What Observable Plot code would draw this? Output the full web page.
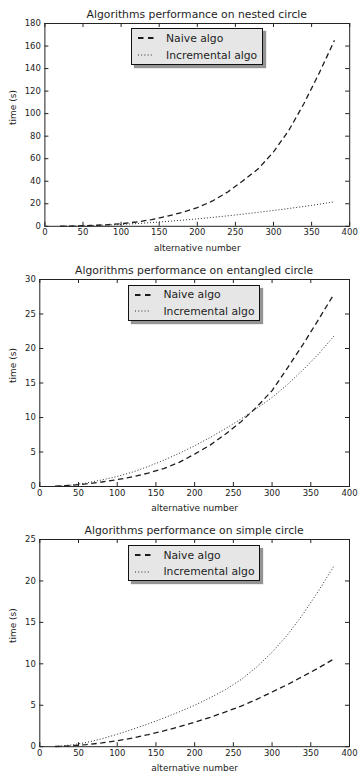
<!DOCTYPE html>
<html>
<head>
<meta charset="utf-8">
<script src="https://cdn.jsdelivr.net/npm/d3@7"></script>
<script src="https://cdn.jsdelivr.net/npm/@observablehq/plot@0.6"></script>
<style>
  html, body { margin: 0; padding: 0; background: #fff; }
  #chart { position: relative; width: 360px; height: 777px; overflow: hidden;
           font-family: "DejaVu Sans", sans-serif; color: #222; }
  #chart svg.plot { position: absolute; left: 0; }
  .title { position: absolute; text-align: center; font-size: 10.8px; line-height: 13px;
           white-space: nowrap; color: #1e1e1e; }
  .legend { position: absolute; box-sizing: border-box; border: 1px solid #111;
            background: #e6e6e6; box-shadow: 3px 3px 1px rgba(0,0,0,0.42); }
  .legend .row { position: absolute; left: 0; height: 14px; display: flex; align-items: center;
                 font-size: 10.8px; color: #1e1e1e; white-space: nowrap; }
  .legend .row svg { position: absolute; left: 6.5px; }
  .legend .row span { position: absolute; left: 34.5px; }
</style>
</head>
<body>
<div id="chart"></div>
<script>
// Number of alternatives tested (x values shared by all three experiments)
const alternatives = [20, 40, 60, 80, 100, 120, 140, 160, 180, 200, 220, 240, 260, 280, 300, 320, 340, 360, 380];

// Running times in seconds — nested circle
const nestedNaive = [0.1, 0.3, 0.7, 1.3, 2.3, 3.8, 6.0, 8.8, 12.3, 16.5, 22.5, 30.5, 40.5, 51, 66, 85, 109, 136, 165];
const nestedIncremental = [0.05, 0.2, 0.5, 1.0, 1.6, 2.4, 3.3, 4.3, 5.4, 6.6, 7.9, 9.3, 10.8, 12.4, 14.0, 15.8, 17.6, 19.6, 21.8];

// Running times in seconds — entangled circle
const entangledNaive = [0.04, 0.17, 0.38, 0.65, 1.0, 1.4, 1.95, 2.6, 3.5, 4.7, 6.0, 7.6, 9.4, 11.5, 13.9, 17.2, 20.6, 24.2, 27.9];
const entangledIncremental = [0.05, 0.2, 0.5, 0.95, 1.45, 2.1, 2.9, 3.8, 4.8, 5.9, 7.1, 8.4, 9.8, 11.3, 12.9, 14.8, 16.9, 19.2, 21.8];

// Running times in seconds — simple circle
const simpleNaive = [0.02, 0.1, 0.25, 0.45, 0.72, 1.05, 1.45, 1.9, 2.4, 2.95, 3.55, 4.2, 4.9, 5.7, 6.6, 7.5, 8.5, 9.5, 10.6];
const simpleIncremental = [0.04, 0.2, 0.5, 0.95, 1.5, 2.1, 2.75, 3.45, 4.2, 5.0, 5.9, 6.9, 8.1, 9.6, 11.4, 13.5, 16.0, 18.8, 21.8];

// Tick labels
const xTicks = [0, 50, 100, 150, 200, 250, 300, 350, 400];
const nestedTicks = [0, 20, 40, 60, 80, 100, 120, 140, 160, 180];
const entangledTicks = [0, 5, 10, 15, 20, 25, 30];
const simpleTicks = [0, 5, 10, 15, 20, 25];

// Text
const titles = [
  "Algorithms performance on nested circle",
  "Algorithms performance on entangled circle",
  "Algorithms performance on simple circle"
];
const seriesNames = ["Naive algo", "Incremental algo"];
const xLabel = "alternative number";
const yLabel = "time (s)";

// Line styles of the two algorithms
const seriesStyle = [
  {stroke: "#1c1c1c", strokeWidth: 1.3, dash: "5.5,3.5"},
  {stroke: "#2a2a2a", strokeWidth: 1, dash: "1,2"}
];

// Axes boxes (in page pixels) of the three stacked panels
const panels = [
  {title: titles[0], series: [nestedNaive, nestedIncremental], yTicks: nestedTicks,
   box: {top: 22.7, bottom: 225.5, left: 44.4, right: 349.2}},
  {title: titles[1], series: [entangledNaive, entangledIncremental], yTicks: entangledTicks,
   box: {top: 279, bottom: 486, left: 39.3, right: 349}},
  {title: titles[2], series: [simpleNaive, simpleIncremental], yTicks: simpleTicks,
   box: {top: 539.3, bottom: 746.5, left: 39.3, right: 349}}
];

const chart = document.getElementById("chart");
const W = 360;

for (const p of panels) {
  const b = p.box;
  const fh = b.bottom - b.top;
  const fw = b.right - b.left;
  const marginTop = 8, marginBottom = 32;
  const yMax = p.yTicks[p.yTicks.length - 1];

  const rows = p.series.map((values, s) =>
    alternatives.map((x, i) => ({x, t: values[i], algo: seriesNames[s]})));

  const svg = Plot.plot({
    width: W,
    height: fh + marginTop + marginBottom,
    marginTop, marginBottom,
    marginLeft: b.left,
    marginRight: W - b.right,
    style: {fontFamily: "DejaVu Sans, sans-serif", fontSize: "8.5px", color: "#222",
            background: "transparent", overflow: "visible"},
    x: {domain: [0, 400]},
    y: {domain: [0, yMax]},
    marks: [
      ...rows.map((r, s) => Plot.lineY(r, {
        x: "x", y: "t",
        stroke: seriesStyle[s].stroke,
        strokeWidth: seriesStyle[s].strokeWidth,
        strokeDasharray: seriesStyle[s].dash,
        strokeLinecap: "butt"
      })),
      // inward ticks on all four sides
      Plot.tickX(xTicks, {x: d => d, insetTop: fh - 4, stroke: "#222"}),
      Plot.tickX(xTicks, {x: d => d, insetBottom: fh - 4, stroke: "#222"}),
      Plot.tickY(p.yTicks, {y: d => d, insetRight: fw - 4, stroke: "#222"}),
      Plot.tickY(p.yTicks, {y: d => d, insetLeft: fw - 4, stroke: "#222"}),
      Plot.axisX({ticks: xTicks, tickSize: 0, tickPadding: 3, tickFormat: d => d,
                  label: null, fontSize: 8.5, fill: "#222"}),
      Plot.axisY({ticks: p.yTicks, tickSize: 0, tickPadding: 4, tickFormat: d => d,
                  label: null, fontSize: 8.5, fill: "#222"}),
      Plot.frame({stroke: "#222", strokeWidth: 1}),
      Plot.text([xLabel], {text: d => d, frameAnchor: "bottom", dy: 21.5,
                           lineAnchor: "middle", fontSize: 9, fill: "#222"}),
      Plot.text([yLabel], {text: d => d, frameAnchor: "left", dx: 13 - b.left,
                           rotate: -90, lineAnchor: "middle", fontSize: 9, fill: "#222"})
    ]
  });
  svg.classList.add("plot");
  svg.style.top = (b.top - marginTop) + "px";
  chart.appendChild(svg);

  // title above the axes
  const t = document.createElement("div");
  t.className = "title";
  t.textContent = p.title;
  t.style.left = b.left + "px";
  t.style.width = fw + "px";
  t.style.top = (b.top - 8.7 - 6.5) + "px";
  chart.appendChild(t);

  // legend, upper center of the axes
  const lw = 132.5, lh = 36.5;
  const lg = document.createElement("div");
  lg.className = "legend";
  lg.style.width = lw + "px";
  lg.style.height = lh + "px";
  lg.style.left = (b.left + fw / 2 - lw / 2) + "px";
  lg.style.top = (b.top + 5.6) + "px";
  seriesNames.forEach((name, s) => {
    const row = document.createElement("div");
    row.className = "row";
    row.style.top = (s === 0 ? 2.2 : 18.8) + "px";
    row.style.width = lw + "px";
    const st = seriesStyle[s];
    row.innerHTML =
      `<svg width="16" height="14"><line x1="0" y1="7" x2="15.5" y2="7" stroke="${st.stroke}" ` +
      `stroke-width="${s === 0 ? 1.8 : 1}" stroke-dasharray="${s === 0 ? "5.5,4.5" : "1,2.2"}"/></svg>` +
      `<span>${name}</span>`;
    lg.appendChild(row);
  });
  chart.appendChild(lg);
}
</script>
</body>
</html>
